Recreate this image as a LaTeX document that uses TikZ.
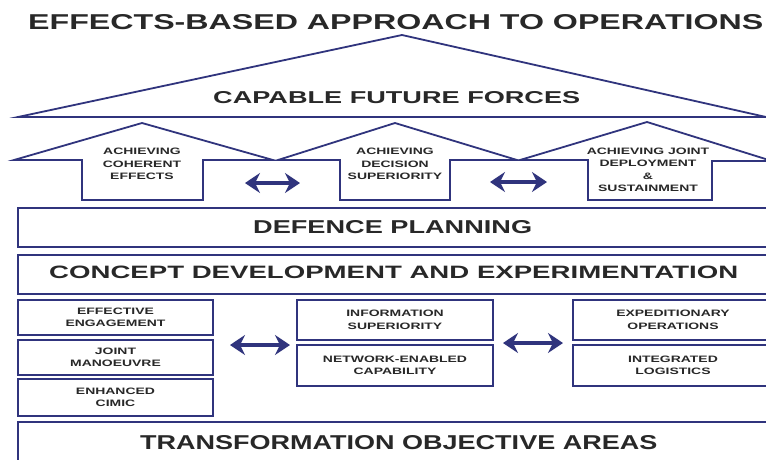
\documentclass[tikz,border=0pt]{standalone}
\usepackage{fontspec}
\setmainfont{Liberation Sans}
\newfontfamily\labfont[FakeStretch=1.5]{Liberation Sans}
\usetikzlibrary{arrows.meta}
\definecolor{navy}{RGB}{48,52,125}
\definecolor{ink}{RGB}{40,40,40}
% resize a caps line to an exact width and cap height
\newcommand{\fitline}[3]{\resizebox{#1pt}{#2pt}{\bfseries #3}}
\begin{document}
\begin{tikzpicture}[x=1pt,y=-1pt,
  frame/.style={draw=navy,line width=1.8pt,line join=miter},
  box/.style={frame,rectangle,anchor=north west,inner sep=0pt,outer sep=0pt},
  lab/.style={font=\labfont\bfseries\fontsize{9.3}{12.5}\selectfont,text=ink,align=center},
  big/.style={text=ink,inner sep=0pt,anchor=base west},
  link/.style={navy,line width=3.5pt,
    {Stealth[length=15pt,width=20pt,inset=5pt]}-{Stealth[length=15pt,width=20pt,inset=5pt]}}]
\useasboundingbox (0,0) rectangle (766,459);
\clip (0,0) rectangle (766,459);
\fill[white] (0,0) rectangle (766,459);

% title
\node[big] (title) at (28,29) {\fitline{735}{15}{EFFECTS-BASED APPROACH TO OPERATIONS}};

% roof
\draw[frame] (18,117) -- (402,35) -- (766,117) -- cycle;
\node[big] (cff) at (213,103) {\fitline{367}{12}{CAPABLE FUTURE FORCES}};

% three pillars shaped as upward arrows
\draw[frame] (14,160) -- (142,123) -- (273,160) -- (203,160) -- (203,200) -- (82,200) -- (82,160) -- cycle;
\draw[frame] (278,160) -- (395,123) -- (517,160) -- (450,160) -- (450,200) -- (340,200) -- (340,160) -- cycle;
\draw[frame] (520,160) -- (647,122) -- (772,161) -- (712,161) -- (712,200) -- (588,200) -- (588,160) -- cycle;
\node[lab] (ace) at (142,164) {ACHIEVING\\COHERENT\\EFFECTS};
\node[lab] (ads) at (395,164) {ACHIEVING\\DECISION\\SUPERIORITY};
\node[lab] (ajd) at (648,170) {ACHIEVING JOINT\\DEPLOYMENT\\\&\\SUSTAINMENT};

\coordinate (p1a) at (245,183); \coordinate (p1b) at (300,183);
\coordinate (p2a) at (490,182); \coordinate (p2b) at (547,182);
\draw[link] (p1a) -- (p1b);
\draw[link] (p2a) -- (p2b);

% horizontal bands
\node[box,minimum width=760pt,minimum height=39pt] (dp) at (18,208) {};
\node[big] (dpt) at (253,233) {\fitline{279}{13}{DEFENCE PLANNING}};
\node[box,minimum width=760pt,minimum height=39pt] (cde) at (18,255) {};
\node[big] (cdet) at (49,278) {\fitline{689}{12.5}{CONCEPT DEVELOPMENT AND EXPERIMENTATION}};

% objective areas
\node[box,lab,minimum width=195pt,minimum height=35pt] (ee) at (18,300) {EFFECTIVE\\ENGAGEMENT};
\node[box,lab,minimum width=195pt,minimum height=35pt] (jm) at (18,340) {JOINT\\MANOEUVRE};
\node[box,lab,minimum width=195pt,minimum height=37pt] (ec) at (18,379) {ENHANCED\\CIMIC};
\node[box,lab,minimum width=196pt,minimum height=40pt] (is) at (297,300) {INFORMATION\\SUPERIORITY};
\node[box,lab,minimum width=196pt,minimum height=41pt] (nec) at (297,345) {NETWORK-ENABLED\\CAPABILITY};
\node[box,lab,minimum width=200pt,minimum height=40pt,text width=188pt] (eo) at (573,300) {EXPEDITIONARY\\OPERATIONS};
\node[box,lab,minimum width=200pt,minimum height=41pt,text width=188pt] (il) at (573,345) {INTEGRATED\\LOGISTICS};

\coordinate (q1a) at (230,345); \coordinate (q1b) at (290,345);
\coordinate (q2a) at (503,343); \coordinate (q2b) at (563,343);
\draw[link] (q1a) -- (q1b);
\draw[link] (q2a) -- (q2b);

\node[box,minimum width=760pt,minimum height=60pt] (toa) at (18,422) {};
\node[big] (toat) at (140,449) {\fitline{517}{14}{TRANSFORMATION OBJECTIVE AREAS}};
\end{tikzpicture}
\end{document}
